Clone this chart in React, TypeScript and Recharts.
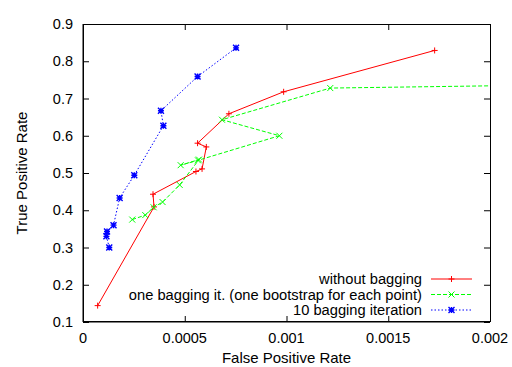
import { Label, Legend, Scatter, ScatterChart, XAxis, YAxis } from "recharts";

const FONT = '"Liberation Sans", Arial, sans-serif';

const X_TICKS = [0, 0.0005, 0.001, 0.0015, 0.002];
const Y_TICKS = [0.1, 0.2, 0.3, 0.4, 0.5, 0.6, 0.7, 0.8, 0.9];
const X_DOMAIN = [0, 0.002];
const Y_DOMAIN = [0.1, 0.9];

const NO_BAG_FPR = [0.000072, 0.000349, 0.000344, 0.000555, 0.000585, 0.000606, 0.000563, 0.000717, 0.000986, 0.001728];
const NO_BAG_TPR = [0.144, 0.409, 0.443, 0.504, 0.511, 0.57, 0.58, 0.659, 0.718, 0.829];

// last point is where the curve leaves the plot at the right border (no marker there)
const ONE_BAG_FPR = [0.000242, 0.000306, 0.000347, 0.000391, 0.000475, 0.00057, 0.00048, 0.000565, 0.000965, 0.000683, 0.001215, 0.002];
const ONE_BAG_TPR = [0.375, 0.387, 0.408, 0.422, 0.468, 0.536, 0.521, 0.534, 0.6, 0.643, 0.728, 0.734];

const TEN_BAG_FPR = [0.000129, 0.000115, 0.000118, 0.00015, 0.00018, 0.000252, 0.000395, 0.000383, 0.000563, 0.000752];
const TEN_BAG_TPR = [0.3, 0.33, 0.343, 0.36, 0.433, 0.494, 0.627, 0.667, 0.759, 0.836];

const toPoints = (xs: number[], ys: number[]) => xs.map((x, i) => ({ x, y: ys[i] }));

const SERIES = [
  { name: "without bagging", color: "#ff0000", dash: undefined, marker: "plus", data: toPoints(NO_BAG_FPR, NO_BAG_TPR) },
  { name: "one bagging it. (one bootstrap for each point)", color: "#00ff00", dash: "4 2", marker: "cross", data: toPoints(ONE_BAG_FPR, ONE_BAG_TPR) },
  { name: "10 bagging iteration", color: "#0000ff", dash: "1.5 2", marker: "star", data: toPoints(TEN_BAG_FPR, TEN_BAG_TPR) },
];

// chart box
const W = 512;
const H = 367;
const M = { top: 24, right: 22, bottom: 0, left: 0 };
const Y_AXIS_W = 83;
const X_AXIS_H = 45;
const PLOT_W = W - M.left - M.right - Y_AXIS_W;
const PLOT_H = H - M.top - M.bottom - X_AXIS_H;
const TICK = 6;

function markerPath(kind: string, cx: number, cy: number) {
  const r = 3;
  const plus = `M${cx - r},${cy}h${2 * r}M${cx},${cy - r}v${2 * r}`;
  const cross = `M${cx - r},${cy - r}l${2 * r},${2 * r}M${cx - r},${cy + r}l${2 * r},${-2 * r}`;
  if (kind === "plus") return plus;
  if (kind === "cross") return cross;
  return plus + cross;
}

function Marker({ kind, cx, cy, color }: { kind: string; cx: number; cy: number; color: string }) {
  if (cx == null || cy == null) return null;
  return <path d={markerPath(kind, cx, cy)} stroke={color} strokeWidth={kind === "star" ? 1.4 : 1} fill="none" />;
}

const fmtX = (v: number) => String(v);
const fmtY = (v: number) => v.toFixed(1);

function BottomTick(props: any) {
  const { x, y, payload } = props;
  return (
    <text x={x} y={y + 21} textAnchor="middle" fontSize={14.5} fontFamily={FONT} fill="#000">
      {fmtX(payload.value)}
    </text>
  );
}

function LeftTick(props: any) {
  const { x, y, payload } = props;
  return (
    <text x={x - 10} y={y + 5} textAnchor="end" fontSize={14.5} fontFamily={FONT} fill="#000">
      {fmtY(payload.value)}
    </text>
  );
}

function XTitle(props: any) {
  const vb = props.viewBox || { x: Y_AXIS_W, y: M.top + PLOT_H, width: PLOT_W };
  return (
    <text x={vb.x + vb.width / 2} y={vb.y + 41} textAnchor="middle" fontSize={15} fontFamily={FONT} fill="#000">
      False Positive Rate
    </text>
  );
}

function YTitle(props: any) {
  const vb = props.viewBox || { x: 0, y: M.top, height: PLOT_H };
  const cx = 27;
  const cy = vb.y + vb.height / 2;
  return (
    <text x={cx} y={cy} transform={`rotate(-90 ${cx} ${cy})`} textAnchor="middle" fontSize={15} fontFamily={FONT} fill="#000">
      True Positive Rate
    </text>
  );
}

// overlay: gnuplot-style border with inward ticks on all four sides, plus the key
function Overlay() {
  const left = M.left + Y_AXIS_W;
  const top = M.top;
  const px = (v: number) => left + ((v - X_DOMAIN[0]) / (X_DOMAIN[1] - X_DOMAIN[0])) * PLOT_W;
  const py = (v: number) => top + PLOT_H - ((v - Y_DOMAIN[0]) / (Y_DOMAIN[1] - Y_DOMAIN[0])) * PLOT_H;
  return (
    <svg width={W} height={H} style={{ display: "block" }}>
      <rect x={left + 0.5} y={top + 0.5} width={PLOT_W} height={PLOT_H - 1} fill="none" stroke="#000" strokeWidth={1} />
      {X_TICKS.map((t) => (
        <g key={`x${t}`}>
          <line x1={px(t) + 0.5} x2={px(t) + 0.5} y1={top + PLOT_H} y2={top + PLOT_H - TICK} stroke="#000" strokeWidth={1} />
          <line x1={px(t) + 0.5} x2={px(t) + 0.5} y1={top} y2={top + TICK} stroke="#000" strokeWidth={1} />
        </g>
      ))}
      {Y_TICKS.map((t) => (
        <g key={`y${t}`}>
          <line x1={left} x2={left + TICK} y1={py(t) + 0.5} y2={py(t) + 0.5} stroke="#000" strokeWidth={1} />
          <line x1={left + PLOT_W} x2={left + PLOT_W - TICK} y1={py(t) + 0.5} y2={py(t) + 0.5} stroke="#000" strokeWidth={1} />
        </g>
      ))}
      {SERIES.map((s, i) => {
        const cy = 279 + i * 15.5;
        return (
          <g key={s.name}>
            <text x={422} y={cy + 5} textAnchor="end" fontSize={14.7} fontFamily={FONT} fill="#000">
              {s.name}
            </text>
            <line x1={431} x2={472} y1={cy} y2={cy} stroke={s.color} strokeDasharray={s.dash} />
            <Marker kind={s.marker} cx={451.5} cy={cy} color={s.color} />
          </g>
        );
      })}
    </svg>
  );
}

export default function App() {
  return (
    <div style={{ position: "absolute", left: 0, top: 0, width: W, height: H, background: "#fff" }}>
      <ScatterChart width={W} height={H} margin={M}>
        <XAxis
          type="number"
          dataKey="x"
          domain={X_DOMAIN}
          ticks={X_TICKS}
          height={X_AXIS_H}
          tickSize={0}
          tickMargin={0}
          tickLine={false}
          tick={BottomTick}
          axisLine={{ stroke: "#000" }}
        >
          <Label content={<XTitle />} />
        </XAxis>
        <YAxis
          type="number"
          dataKey="y"
          domain={Y_DOMAIN}
          ticks={Y_TICKS}
          width={Y_AXIS_W}
          tickSize={0}
          tickMargin={0}
          tickLine={false}
          tick={LeftTick}
          axisLine={{ stroke: "#000" }}
        >
          <Label content={<YTitle />} />
        </YAxis>
        {SERIES.map((s) => (
          <Scatter
            key={s.name}
            name={s.name}
            data={s.data}
            fill={s.color}
            line={{ stroke: s.color, strokeWidth: 1, strokeDasharray: s.dash }}
            lineType="joint"
            shape={(p: any) =>
              p.payload && p.payload.x >= X_DOMAIN[1] ? <g /> : <Marker kind={s.marker} cx={p.cx} cy={p.cy} color={s.color} />
            }
            isAnimationActive={false}
          />
        ))}
        <Legend
          layout="vertical"
          align="center"
          verticalAlign="middle"
          content={<Overlay />}
          wrapperStyle={{ left: 0, top: 0, width: W, height: H, pointerEvents: "none" }}
        />
      </ScatterChart>
    </div>
  );
}
